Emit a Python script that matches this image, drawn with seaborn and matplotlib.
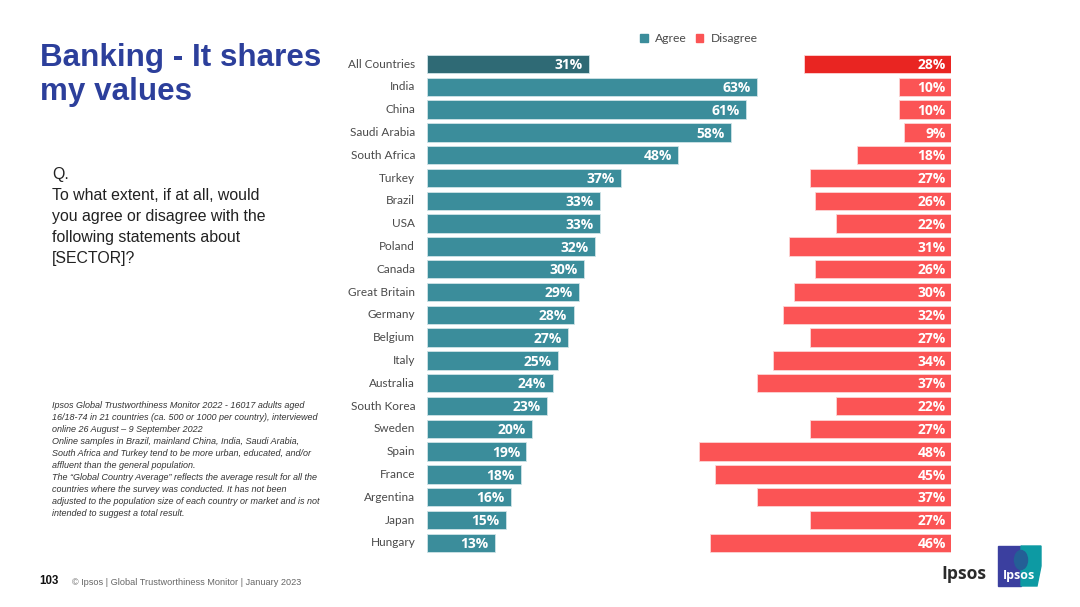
import pandas as pd
import seaborn as sns
import matplotlib.pyplot as plt
from matplotlib.patches import Patch, Polygon, Ellipse

countries = ["All Countries", "India", "China", "Saudi Arabia", "South Africa", "Turkey", "Brazil", "USA",
             "Poland", "Canada", "Great Britain", "Germany", "Belgium", "Italy", "Australia", "South Korea",
             "Sweden", "Spain", "France", "Argentina", "Japan", "Hungary"]
agree = [31, 63, 61, 58, 48, 37, 33, 33, 32, 30, 29, 28, 27, 25, 24, 23, 20, 19, 18, 16, 15, 13]
disagree = [28, 10, 10, 9, 18, 27, 26, 22, 31, 26, 30, 32, 27, 34, 37, 22, 27, 48, 45, 37, 27, 46]

TEAL = "#3b8d9b"
TEAL_DARK = "#2f6a75"
RED = "#fb5455"
RED_DARK = "#e92522"
W, H = 1080, 607

df = pd.DataFrame({"country": countries, "agree": agree, "disagree": disagree})

sns.set_theme(style="white")
plt.rcParams["font.family"] = ["Open Sans", "DejaVu Sans"]
fig = plt.figure(figsize=(W / 100, H / 100), dpi=100, facecolor="white")


def axes_px(x0, y0, x1, y1):
    return fig.add_axes([x0 / W, 1 - y1 / H, (x1 - x0) / W, (y1 - y0) / H])


def txt(x, y, s, **kw):
    return fig.text(x / W, 1 - y / H, s, **kw)


ax_l = axes_px(427, 52.6, 772, 554.2)
ax_r = axes_px(689, 52.6, 951, 554.2)

sns.barplot(data=df, y="country", x="agree", hue="country", legend=False, ax=ax_l, width=0.81,
            palette=[TEAL_DARK] + [TEAL] * 21, saturation=1, linewidth=0.6, edgecolor="#cfe3e7")
sns.barplot(data=df, y="country", x="disagree", hue="country", legend=False, ax=ax_r, width=0.81,
            palette=[RED_DARK] + [RED] * 21, saturation=1, linewidth=0.6, edgecolor="#fdd5d5")

ax_l.set_xlim(0, 65.9)
ax_r.set_xlim(50, 0)

for ax in (ax_l, ax_r):
    ax.patch.set_alpha(0)
    ax.set_xlabel("")
    ax.set_ylabel("")
    ax.set_xticks([])
    sns.despine(ax=ax, left=True, bottom=True)

ax_l.set_yticks(range(len(countries)))
ax_l.set_yticklabels(countries, va="center", family="Lato")
ax_l.tick_params(axis="y", length=0, pad=8.5, labelsize=8.5, labelcolor="#4a4a4a")
ax_r.set_yticks([])

for i, (a, d) in enumerate(zip(agree, disagree)):
    ax_l.annotate(f"{a}%", xy=(a, i), xytext=(-4.6, -0.8), textcoords="offset points", ha="right", va="center",
                  color="white", fontsize=10, fontweight="bold")
    ax_r.annotate(f"{d}%", xy=(0, i), xytext=(-3.8, -0.8), textcoords="offset points", ha="right", va="center",
                  color="white", fontsize=10, fontweight="bold")

# legend
fig.legend(handles=[Patch(color=TEAL, label="Agree"), Patch(color=RED, label="Disagree")], ncol=2, frameon=False,
           loc="center", bbox_to_anchor=(699 / W, 1 - 38.5 / H), prop={"family": "Lato", "size": 8.7},
           labelcolor="#4a4a4a", handlelength=0.65, handleheight=0.65, handletextpad=0.6, columnspacing=0.7)

# left text block
arial = "Liberation Sans"
txt(40, 58, "Banking - It shares", family=arial, fontsize=22.6, fontweight="bold", color="#2c3f9b", va="center")
txt(40, 92, "my values", family=arial, fontsize=22.6, fontweight="bold", color="#2c3f9b", va="center")

question = ["Q.", "To what extent, if at all, would", "you agree or disagree with the",
            "following statements about", "[SECTOR]?"]
for i, line in enumerate(question):
    txt(52, 175 + i * 20.75, line, family=arial, fontsize=11.4, color="#222222", va="center")

notes = ["Ipsos Global Trustworthiness Monitor 2022 - 16017 adults aged",
         "16/18-74 in 21 countries (ca. 500 or 1000 per country), interviewed",
         "online 26 August \u2013 9 September 2022",
         "Online samples in Brazil, mainland China, India, Saudi Arabia,",
         "South Africa and Turkey tend to be more urban, educated, and/or",
         "affluent than the general population.",
         "The \u201cGlobal Country Average\u201d reflects the average result for all the",
         "countries where the survey was conducted. It has not been",
         "adjusted to the population size of each country or market and is not",
         "intended to suggest a total result."]
for i, line in enumerate(notes):
    txt(52, 406 + i * 11.9, line, family=arial, fontsize=6.5, style="italic", color="#333333", va="center")

# footer
txt(39, 581.5, "103", family=arial, fontsize=8.3, fontweight="bold", color="#111111", va="center")
txt(72, 582.5, "\u00a9 Ipsos | Global Trustworthiness Monitor | January 2023", family=arial, fontsize=6.6,
    color="#666666", va="center")

# logo
logo = fig.add_axes([0, 0, 1, 1], zorder=-1)
logo.set_xlim(0, W)
logo.set_ylim(H, 0)
logo.axis("off")
logo.add_patch(Polygon([(998, 546), (1021, 546), (1021, 586), (998, 586)], color="#3b3f9f"))
logo.add_patch(Polygon([(1021, 546), (1041, 546), (1041, 566), (1037, 586), (1021, 586)], color="#0d9aa3"))
logo.add_patch(Ellipse((1021, 560), 13, 19, color="#245f96"))
txt(1019.5, 575, "Ipsos", fontsize=9, fontweight="bold", color="white", ha="center", va="center")
txt(964, 574, "Ipsos", fontsize=12.6, fontweight="bold", color="#2b2b2b", ha="center", va="center")

plt.savefig("out.png", dpi=100)
plt.close()
